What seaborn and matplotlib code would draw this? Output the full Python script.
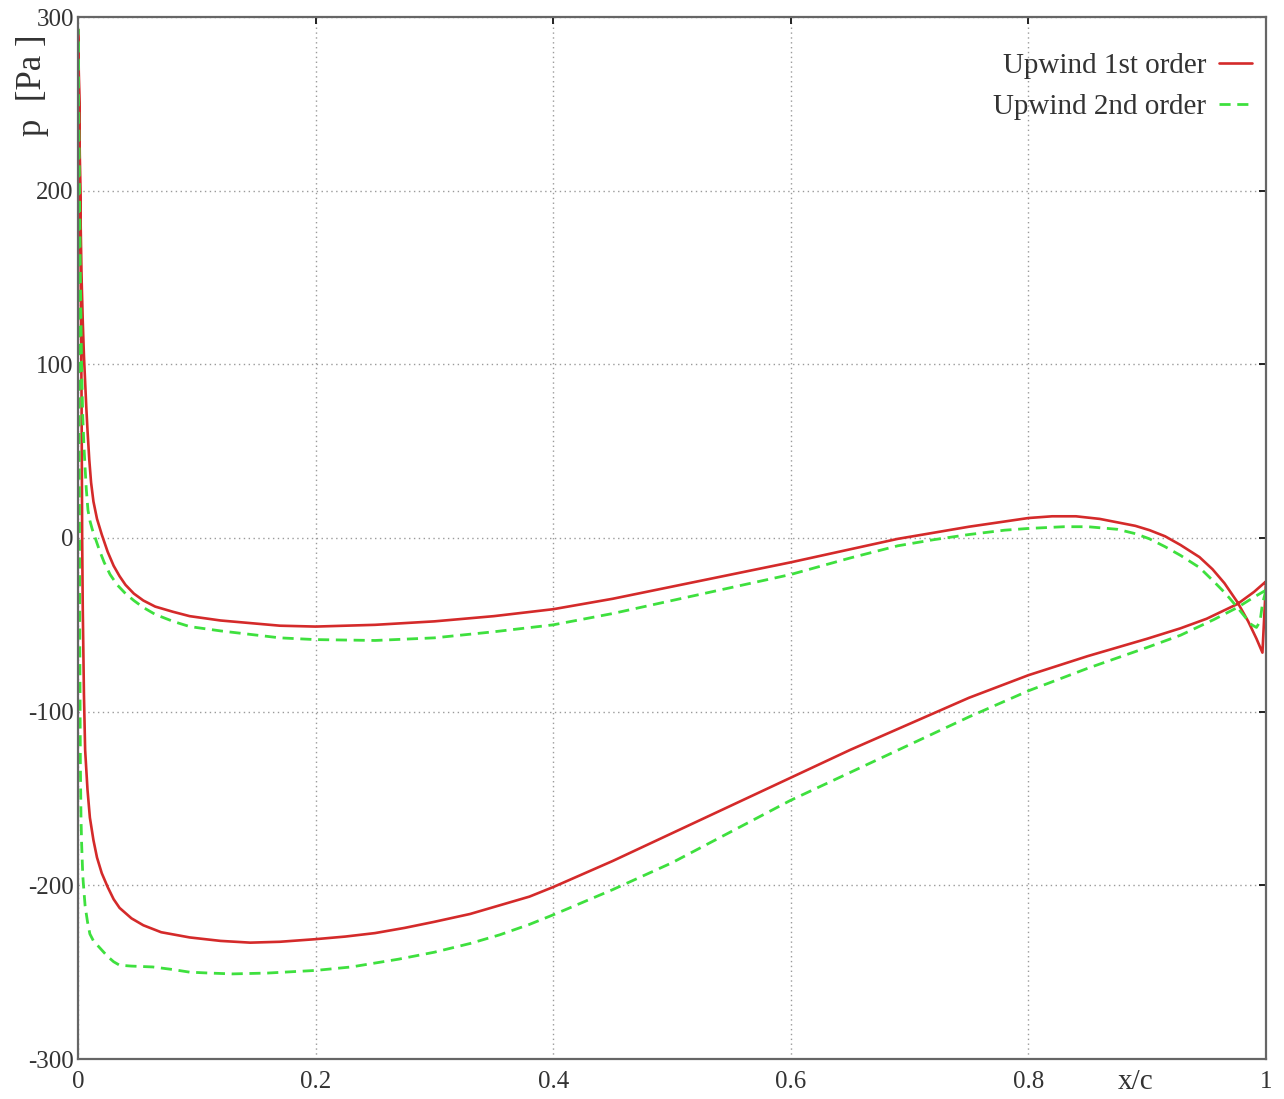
import numpy as np
import pandas as pd
import matplotlib
matplotlib.use("Agg")
import matplotlib.pyplot as plt
import seaborn as sns

# Surface pressure along the chord, suction side and pressure side,
# x/c positions and pressure [Pa] for each discretisation scheme.

# Upwind 1st order -- suction side (leading edge -> trailing edge)
x_up1_suction = [0.0, 0.001, 0.002, 0.003, 0.0035, 0.004, 0.0045, 0.005, 0.006,
                 0.008, 0.010, 0.013, 0.016, 0.020, 0.025, 0.030, 0.035, 0.045,
                 0.055, 0.07, 0.094, 0.12, 0.145, 0.17, 0.2, 0.225, 0.25,
                 0.275, 0.3, 0.33, 0.355, 0.38, 0.4, 0.45, 0.5, 0.55,
                 0.6, 0.65, 0.7, 0.75, 0.8, 0.85, 0.9, 0.928, 0.95,
                 0.976, 0.99, 1.0]
p_up1_suction = [293, 250, 180, 80, 0, -40, -65, -90, -122,
                 -145, -161, -174, -184, -193, -201, -208, -213, -219,
                 -223, -227, -230, -232, -233, -232.5, -231, -229.5, -227.5,
                 -224.5, -221, -216.5, -211.5, -206.5, -201, -186, -170, -154,
                 -138, -122, -107, -92, -79, -68, -58, -52, -46.5,
                 -38, -31, -25]

# Upwind 1st order -- pressure side (leading edge -> trailing edge)
x_up1_pressure = [0.0, 0.0005, 0.001, 0.002, 0.003, 0.004, 0.005, 0.006, 0.007,
                  0.008, 0.0095, 0.011, 0.013, 0.016, 0.020, 0.025, 0.030, 0.035,
                  0.040, 0.047, 0.055, 0.065, 0.08, 0.094, 0.12, 0.145, 0.17,
                  0.2, 0.25, 0.3, 0.35, 0.4, 0.45, 0.5, 0.55, 0.6,
                  0.65, 0.69, 0.72, 0.75, 0.78, 0.8, 0.82, 0.84, 0.86,
                  0.875, 0.89, 0.902, 0.915, 0.928, 0.944, 0.955, 0.965, 0.976,
                  0.985, 0.992, 0.997, 1.0]
p_up1_pressure = [293, 275, 250, 190, 150, 125, 105, 90, 75,
                  62, 45, 32, 21, 11, 2, -8, -16, -22,
                  -27, -32, -36, -39.5, -42.5, -45, -47.5, -49, -50.5,
                  -51, -50, -48, -45, -41, -35, -28, -21, -14,
                  -6.5, -0.5, 3, 6.5, 9.5, 11.5, 12.5, 12.5, 11,
                  9, 7, 4.5, 1, -4, -11, -18, -26, -37,
                  -48, -58, -66, -25]

# Upwind 2nd order -- suction side
x_up2_suction = [0.0, 0.0005, 0.001, 0.0015, 0.002, 0.0025, 0.003, 0.004, 0.0045,
                 0.006, 0.008, 0.010, 0.013, 0.017, 0.021, 0.025, 0.03, 0.035,
                 0.045, 0.063, 0.08, 0.094, 0.11, 0.13, 0.16, 0.2, 0.23,
                 0.27, 0.3, 0.33, 0.355, 0.38, 0.4, 0.45, 0.5, 0.55,
                 0.6, 0.65, 0.7, 0.75, 0.8, 0.85, 0.9, 0.928, 0.956,
                 0.976, 0.99, 1.0]
p_up2_suction = [293, 200, 60, -60, -130, -160, -175, -194, -199,
                 -212, -221, -228, -232, -235, -238, -241, -244, -246,
                 -246.5, -247, -248.5, -250, -250.5, -251, -250.5, -249, -247,
                 -242.5, -238.5, -233.5, -228.5, -222.5, -217, -202.5, -187, -169,
                 -151, -135, -119, -103, -88, -75, -63, -56, -47,
                 -40, -34, -30]

# Upwind 2nd order -- pressure side
x_up2_pressure = [0.0, 0.001, 0.002, 0.003, 0.004, 0.005, 0.006, 0.007, 0.0084,
                  0.010, 0.012, 0.014, 0.018, 0.022, 0.027, 0.033, 0.04, 0.047,
                  0.055, 0.065, 0.08, 0.094, 0.12, 0.145, 0.17, 0.2, 0.25,
                  0.3, 0.35, 0.4, 0.45, 0.5, 0.55, 0.6, 0.65, 0.69,
                  0.72, 0.75, 0.78, 0.8, 0.83, 0.85, 0.875, 0.89, 0.902,
                  0.915, 0.928, 0.944, 0.956, 0.966, 0.976, 0.983, 0.988, 0.992,
                  0.995, 0.997, 1.0]
p_up2_pressure = [293, 220, 150, 100, 70, 53, 40, 28, 16,
                  10, 5, 1, -7, -14, -21, -27, -32, -36,
                  -40, -44, -48, -51, -53.5, -55.5, -57.5, -58.5, -59,
                  -57.5, -54, -50, -43.5, -36, -28.5, -21, -11.5, -4.5,
                  -1, 2, 4.5, 5.5, 6.5, 6.5, 5, 2.5, -0.5,
                  -5, -10, -17, -25, -32, -40, -46, -50, -51.5,
                  -48, -38, -30]

labels = ["Upwind 1st order", "Upwind 2nd order"]
x_ticks = [0, 0.2, 0.4, 0.6, 0.8, 1]
x_tick_labels = ["0", "0.2", "0.4", "0.6", "0.8", "1"]
y_ticks = [-300, -200, -100, 0, 100, 200, 300]


def closed_path(xs_s, ps_s, xs_p, ps_p):
    # trailing edge -> leading edge along the suction side, then back along the pressure side
    xs = list(reversed(xs_s)) + list(xs_p)[1:]
    ps = list(reversed(ps_s)) + list(ps_p)[1:]
    return pd.DataFrame({"x": xs, "p": ps})


df1 = closed_path(x_up1_suction, p_up1_suction, x_up1_pressure, p_up1_pressure)
df2 = closed_path(x_up2_suction, p_up2_suction, x_up2_pressure, p_up2_pressure)

sns.set_theme(style="white")
plt.rcParams["font.family"] = ["Liberation Serif", "DejaVu Serif"]
plt.rcParams["axes.unicode_minus"] = False
text_color = "#333333"

fig = plt.figure(figsize=(12.84, 10.99), dpi=100)
ax = fig.add_axes([78 / 1284, 1 - 1059 / 1099, (1266 - 78) / 1284, (1059 - 17) / 1099])

sns.lineplot(data=df1, x="x", y="p", ax=ax, sort=False, estimator=None,
             color="#d42a2a", linewidth=1.9, label=labels[0])
sns.lineplot(data=df2, x="x", y="p", ax=ax, sort=False, estimator=None,
             color="#3ee03e", linewidth=2.0, linestyle=(0, (4, 2.4)), label=labels[1])

ax.set_xlim(0, 1)
ax.set_ylim(-300, 300)
ax.set_xticks(x_ticks)
ax.set_xticklabels(x_tick_labels)
ax.set_yticks(y_ticks)

ax.grid(True, linestyle=(0, (1, 2.5)), color="#9a9a9a", linewidth=1.0)
for spine in ax.spines.values():
    spine.set_color("#666666")
    spine.set_linewidth(1.6)

ax.tick_params(axis="both", which="both", direction="in", length=5, width=1.4,
               color="#222222", top=True, right=True, labelcolor=text_color,
               labelsize=18)
ax.tick_params(axis="x", pad=9)
ax.tick_params(axis="y", pad=3)

ax.set_xlabel("x/c", fontsize=21, color=text_color)
ax.xaxis.set_label_coords(0.89, -0.022)
ax.xaxis.label.set_va("center")
ax.set_ylabel("p  [Pa ]", fontsize=25, color=text_color)
ax.yaxis.set_label_coords(-0.038, 0.935)
ax.yaxis.label.set_va("center")

leg = ax.legend(loc="upper right", frameon=False, markerfirst=False,
                fontsize=21, handlelength=1.1, handletextpad=0.45,
                labelspacing=0.49, borderaxespad=0.3,
                bbox_to_anchor=(1.005, 0.985))
for t in leg.get_texts():
    t.set_color(text_color)

fig.savefig("out.png", dpi=100)
